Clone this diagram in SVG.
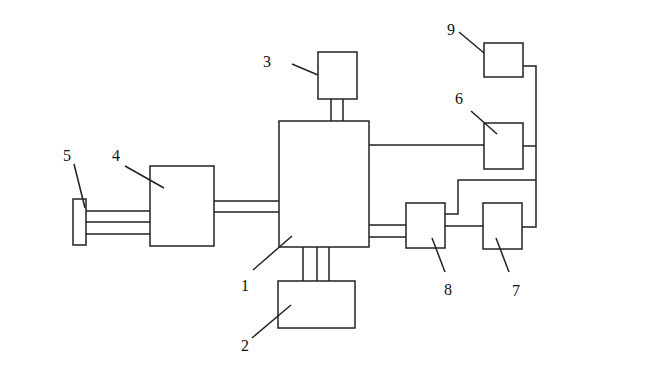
<svg xmlns="http://www.w3.org/2000/svg" width="657" height="366" viewBox="0 0 657 366">
<style>
.b{fill:#fff;stroke:#222;stroke-width:1.5}
.c{fill:none;stroke:#222;stroke-width:1.5}
.t{font-family:"Liberation Serif",serif;font-size:16px;fill:#111;text-anchor:middle}
</style>
<rect width="657" height="366" fill="#fff"/>
<g id="connectors">
<path class="c" d="M331 99V121M343 99V121"/>
<path class="c" d="M214 201H279M214 212H279"/>
<path class="c" d="M86 211H150M86 222H150M86 234H150"/>
<path class="c" d="M303 247V281M317 247V281M329 247V281"/>
<path class="c" d="M369 145H484"/>
<path class="c" d="M369 225H406M369 237H406"/>
<path class="c" d="M445 226H483"/>
<path class="c" d="M523 66H536V227H522"/>
<path class="c" d="M523 146H536"/>
<path class="c" d="M445 214H458V180H536"/>
</g>
<g id="node1"><rect class="b" x="279" y="121" width="90" height="126"/><text class="t" x="245" y="291">1</text><path class="c" d="M253 270L292 236"/></g>
<g id="node2"><rect class="b" x="278" y="281" width="77" height="47"/><text class="t" x="245" y="351">2</text><path class="c" d="M252 338L291 305"/></g>
<g id="node3"><rect class="b" x="318" y="52" width="39" height="47"/><text class="t" x="267" y="67">3</text><path class="c" d="M292 64L318 75"/></g>
<g id="node4"><rect class="b" x="150" y="166" width="64" height="80"/><text class="t" x="116" y="161">4</text><path class="c" d="M125 166L164 188"/></g>
<g id="node5"><rect class="b" x="73" y="199" width="13" height="46"/><text class="t" x="67" y="161">5</text><path class="c" d="M74 164L85 208"/></g>
<g id="node6"><rect class="b" x="484" y="123" width="39" height="46"/><text class="t" x="459" y="104">6</text><path class="c" d="M471 111L497 134"/></g>
<g id="node7"><rect class="b" x="483" y="203" width="39" height="46"/><text class="t" x="516" y="296">7</text><path class="c" d="M496 238L509 272"/></g>
<g id="node8"><rect class="b" x="406" y="203" width="39" height="45"/><text class="t" x="448" y="295">8</text><path class="c" d="M432 238L445 272"/></g>
<g id="node9"><rect class="b" x="484" y="43" width="39" height="34"/><text class="t" x="451" y="35">9</text><path class="c" d="M459 32L484 53"/></g>
</svg>
